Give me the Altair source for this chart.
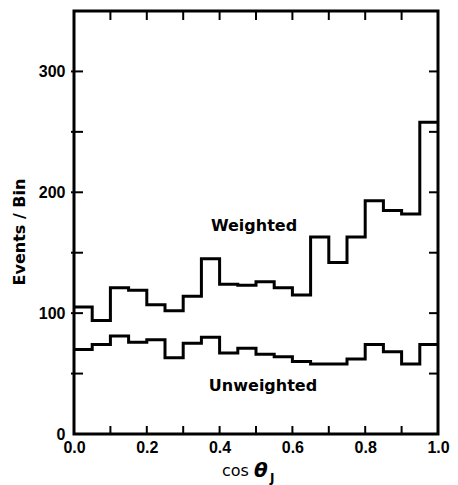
import altair as alt
import pandas as pd

edges = [round(i * 0.05, 2) for i in range(21)]
weighted = [105, 94, 121, 119, 107, 102, 114, 145, 124, 123, 126, 121, 115,
            163, 142, 163, 193, 185, 182, 258]
unweighted = [70, 74, 81, 76, 78, 63, 75, 80, 67, 71, 66, 64, 60, 58, 58, 62,
              74, 68, 58, 74]

x_ticks = [0.1, 0.2, 0.3, 0.4, 0.5, 0.6, 0.7, 0.8, 0.9]
y_ticks = [50, 100, 150, 200, 250, 300]
x_labels = [0.0, 0.2, 0.4, 0.6, 0.8, 1.0]
y_labels = [0, 100, 200, 300]

rows = []
for name, vals in (("Weighted", weighted), ("Unweighted", unweighted)):
    for e, v in zip(edges, vals + [vals[-1]]):
        rows.append({"x": e, "y": v, "series": name})
df = pd.DataFrame(rows)

W, H = 364, 423
xs = alt.Scale(domain=[0, 1], nice=False, zero=False)
ys = alt.Scale(domain=[0, 350], nice=False)

lab_font = "Liberation Sans"

lines = alt.Chart(df).mark_line(
    interpolate="step-after", color="black", strokeWidth=3, strokeJoin="miter"
).encode(
    x=alt.X("x:Q", scale=xs, axis=alt.Axis(
        values=x_labels, format=".1f", title=None, domain=False, ticks=False,
        grid=False, labelFont=lab_font, labelFontWeight="bold",
        labelFontSize=16, labelColor="black", labelPadding=5,
        labelFlush=False)),
    y=alt.Y("y:Q", scale=ys, axis=alt.Axis(
        values=y_labels, format="d", title=None, domain=False, ticks=False,
        grid=False, labelFont=lab_font, labelFontWeight="bold",
        labelFontSize=16, labelColor="black", labelPadding=9,
        labelFlush=False)),
    detail="series:N",
)

xt = pd.DataFrame({"v": x_ticks})
yt = pd.DataFrame({"v": y_ticks})
tick_bottom = alt.Chart(xt).mark_rule(color="black", strokeWidth=2).encode(
    x=alt.X("v:Q", scale=xs), y=alt.value(H - 8), y2=alt.value(H))
tick_top = alt.Chart(xt).mark_rule(color="black", strokeWidth=2).encode(
    x=alt.X("v:Q", scale=xs), y=alt.value(0), y2=alt.value(9))
tick_left = alt.Chart(yt).mark_rule(color="black", strokeWidth=2).encode(
    y=alt.Y("v:Q", scale=ys), x=alt.value(-3), x2=alt.value(9))
tick_right = alt.Chart(yt).mark_rule(color="black", strokeWidth=2).encode(
    y=alt.Y("v:Q", scale=ys), x=alt.value(W - 9), x2=alt.value(W))

lab_w = alt.Chart(pd.DataFrame({"t": ["Weighted"]})).mark_text(
    font="DejaVu Sans", fontWeight="bold", fontSize=16, align="center",
    baseline="alphabetic", color="black").encode(
    text="t:N", x=alt.value(180), y=alt.value(220))
lab_u = alt.Chart(pd.DataFrame({"t": ["Unweighted"]})).mark_text(
    font="DejaVu Sans", fontWeight="bold", fontSize=16, align="center",
    baseline="alphabetic", color="black").encode(
    text="t:N", x=alt.value(189), y=alt.value(380))

ytitle = alt.Chart(pd.DataFrame({"t": ["Events / Bin"]})).mark_text(
    font="DejaVu Sans", fontWeight="bold", fontSize=16, align="center",
    baseline="middle", angle=270, color="black").encode(
    text="t:N", x=alt.value(-54), y=alt.value(221))

cos_t = alt.Chart(pd.DataFrame({"t": ["cos"]})).mark_text(
    font="DejaVu Sans", fontSize=16, align="left", baseline="alphabetic",
    color="black").encode(text="t:N", x=alt.value(148), y=alt.value(465))
theta_t = alt.Chart(pd.DataFrame({"t": ["θ"]})).mark_text(
    font="DejaVu Sans", fontSize=20, fontWeight="bold", fontStyle="italic",
    align="left", baseline="alphabetic", color="black").encode(
    text="t:N", x=alt.value(180), y=alt.value(466))
j_t = alt.Chart(pd.DataFrame({"t": ["J"]})).mark_text(
    font="DejaVu Sans", fontSize=12, fontWeight="bold", align="left",
    baseline="alphabetic", color="black").encode(
    text="t:N", x=alt.value(196), y=alt.value(471))

chart = alt.layer(
    lines, tick_bottom, tick_top, tick_left, tick_right,
    lab_w, lab_u, ytitle, cos_t, theta_t, j_t
).properties(
    width=W, height=H,
    autosize=alt.AutoSizeParams(type="none"),
    padding={"left": 66, "top": 3, "right": 12, "bottom": 51},
    background="white",
).configure_view(stroke="black", strokeWidth=3)

chart.save("out.html", embed_options={"renderer": "svg", "actions": False})
